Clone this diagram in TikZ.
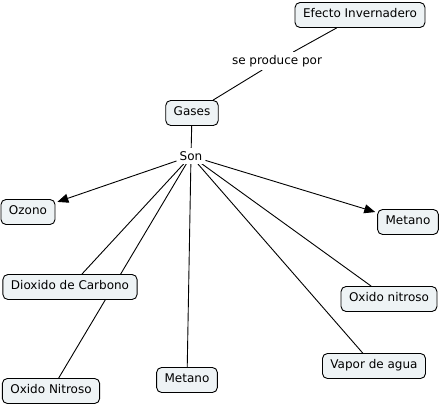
\documentclass[tikz,border=0pt]{standalone}
\usepackage{fontspec}
\setmainfont{DejaVu Sans}
\usetikzlibrary{arrows.meta,backgrounds}
\definecolor{cmapfill}{RGB}{238,243,245}
\begin{document}
\begin{tikzpicture}[x=1pt,y=-1pt,
	concept/.style={draw,rounded corners=5pt,fill=cmapfill,line width=0.9pt,
		font=\fontsize{12}{14}\selectfont,text height=9pt,text depth=3pt,
		inner xsep=8pt,inner ysep=6.5pt},
	linkword/.style={fill=white,font=\fontsize{12}{14}\selectfont,inner sep=3pt},
	link/.style={line width=0.9pt},
	tip/.style={link,-{Triangle[length=11pt,width=9pt]},shorten >=2pt}]
	  \useasboundingbox (0,0) rectangle (440,406);
	  \node[concept] (efecto) at (360,15) {Efecto Invernadero};
	  \node[linkword] (seprod) at (277,61) {se produce por};
	  \node[concept] (gases) at (192,113) {Gases};
	  \node[linkword] (son) at (191,156) {Son};
	  \node[concept] (ozono) at (28,212) {Ozono};
	  \node[concept] (metanoA) at (408,222) {Metano};
	  \node[concept] (dioxido) at (70,287) {Dioxido de Carbono};
	  \node[concept] (oxnitA) at (389,299) {Oxido nitroso};
	  \node[concept] (oxnitB) at (51,391) {Oxido Nitroso};
	  \node[concept] (metanoB) at (187,380) {Metano};
	  \node[concept] (vapor) at (374,366) {Vapor de agua};
	  \begin{scope}[on background layer]
	  \draw[link] (efecto) -- (seprod);
	  \draw[link] (seprod) -- (gases);
	  \draw[link] (gases) -- (son);
	  \draw[tip] (son) -- (ozono);
	  \draw[tip] (son) -- (metanoA);
	  \draw[link] (son) -- (dioxido);
	  \draw[link] (son) -- (oxnitB);
	  \draw[link] (son) -- (metanoB);
	  \draw[link] (son) -- (vapor);
	  \draw[link] (son) -- (oxnitA);
	  \end{scope}
	\end{tikzpicture}
\end{document}
